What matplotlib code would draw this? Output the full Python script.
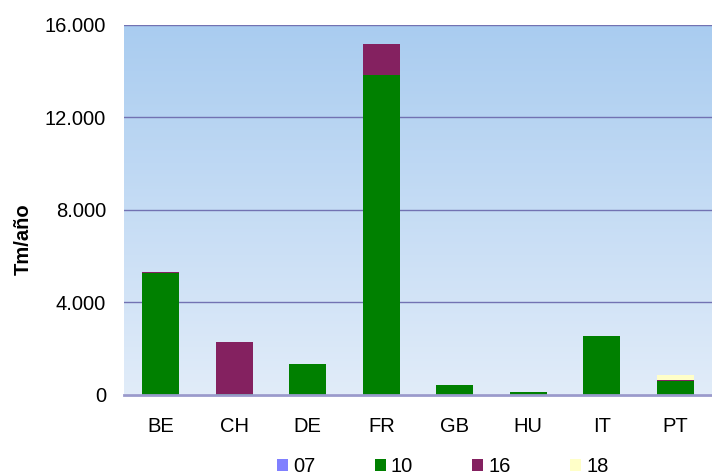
import matplotlib.pyplot as plt
import numpy as np

paises = ['BE', 'CH', 'DE', 'FR', 'GB', 'HU', 'IT', 'PT']
s07 = [0, 0, 0, 0, 0, 0, 0, 0]
s10 = [5260, 40, 1320, 13830, 410, 110, 2530, 585]
s16 = [60, 2230, 0, 1340, 0, 0, 0, 60]
s18 = [0, 0, 0, 0, 0, 0, 0, 190]
series = [('07', s07, '#8080FF'), ('10', s10, '#008000'),
          ('16', s16, '#842160'), ('18', s18, '#FFFFC8')]
yticks = [0, 4000, 8000, 12000, 16000]
ylabels = ['0', '4.000', '8.000', '12.000', '16.000']

plt.rcParams['font.family'] = ['Liberation Sans', 'DejaVu Sans']
fig = plt.figure(figsize=(7.12, 4.76), dpi=100)
ax = fig.add_axes([124/712, 81.5/476, 588/712, 369.5/476])

# fondo degradado
grad = np.linspace(0, 1, 256).reshape(-1, 1)
top = np.array([169, 204, 240]) / 255
bot = np.array([225, 236, 249]) / 255
img = bot + (top - bot) * grad[:, :, None]
ax.imshow(img, extent=[-0.5, 7.5, 0, 16000], aspect='auto', origin='lower', zorder=0)

x = np.arange(len(paises))
base = np.zeros(len(paises))
for nombre, vals, col in series:
    ax.bar(x, vals, bottom=base, width=0.5, color=col, label=nombre, zorder=3)
    base += np.array(vals)

ax.set_xlim(-0.5, 7.5)
ax.set_ylim(0, 16000)
ax.set_yticks(yticks)
ax.set_yticklabels(ylabels, fontsize=14.5)
ax.set_xticks(x)
ax.set_xticklabels(paises, fontsize=14.5)
ax.tick_params(axis='y', length=0, pad=13)
ax.tick_params(axis='x', length=0, pad=16)
for t in yticks[1:]:
    ax.axhline(t, color='#7272B2', lw=1, zorder=1)
for s in ['left', 'right', 'top']:
    ax.spines[s].set_visible(False)
ax.spines['bottom'].set_color('#9A9ACC')
ax.spines['bottom'].set_linewidth(2)
ax.spines['bottom'].set_zorder(4)
ax.set_ylabel('Tm/año', fontsize=14.5, fontweight='bold')
ax.yaxis.set_label_coords(-0.155, 0.42)

ax.legend(loc='center', bbox_to_anchor=(0.542, -0.195), ncol=4, frameon=False,
          fontsize=14.5, handlelength=0.55, handleheight=0.55, handletextpad=0.25,
          columnspacing=2.95)

fig.savefig('out.png', dpi=100)
